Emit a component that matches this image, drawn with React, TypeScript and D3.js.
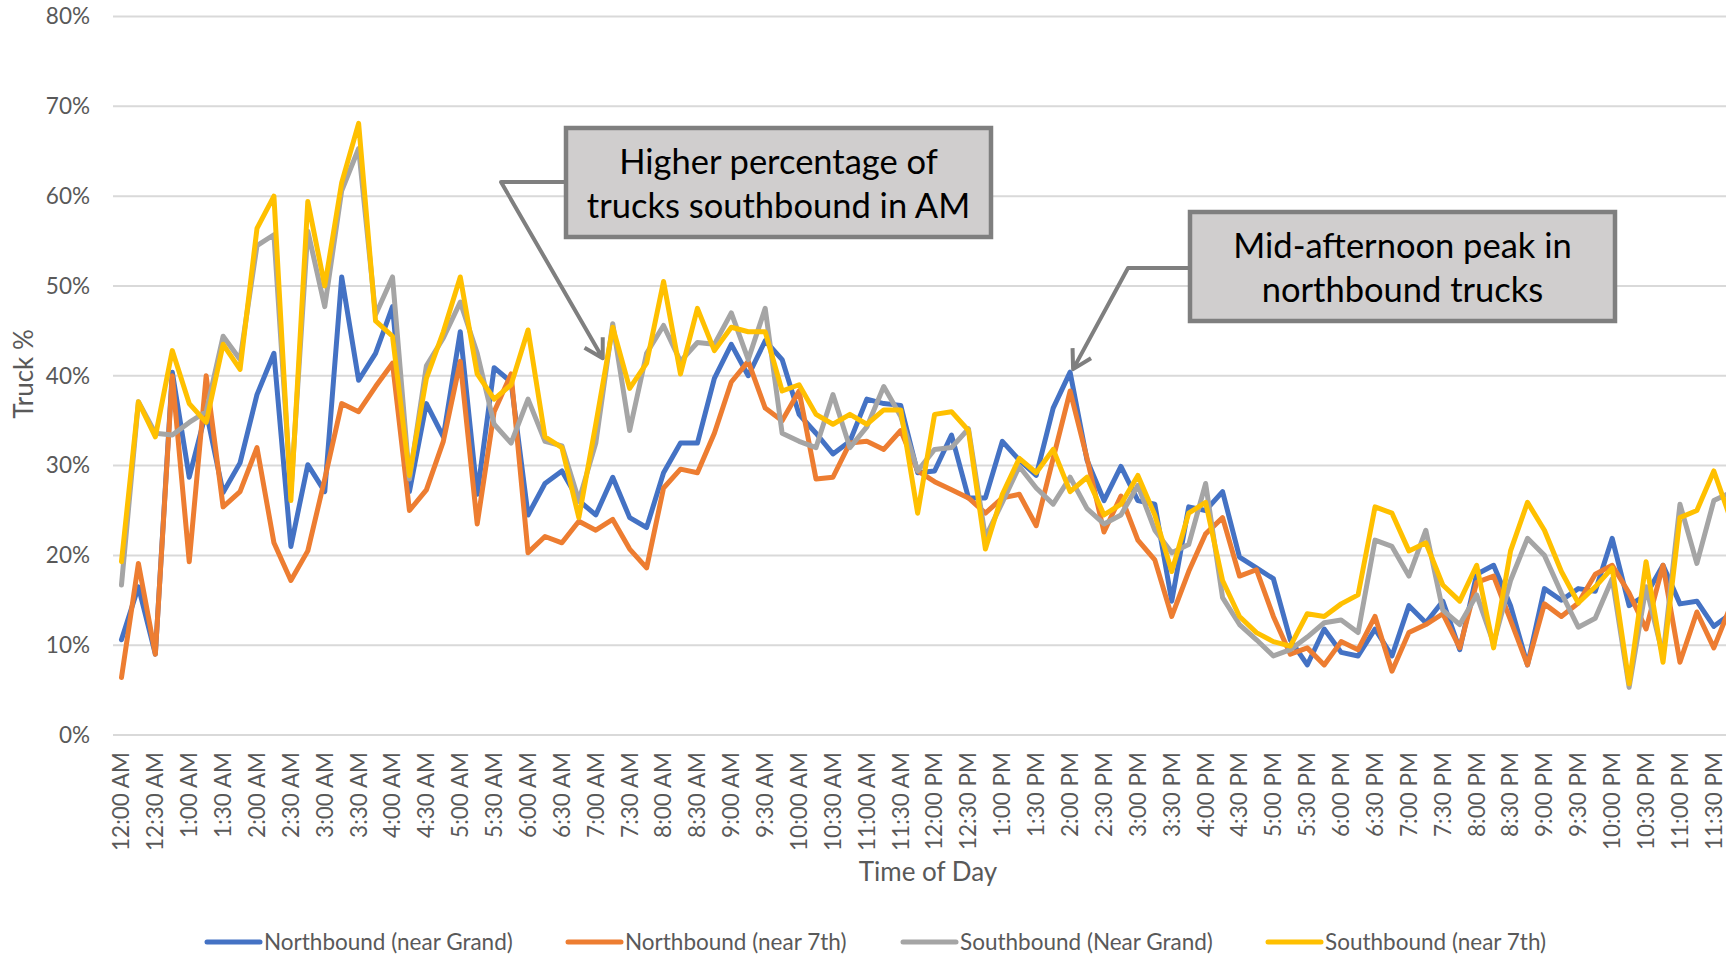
import React, { useRef, useEffect } from 'react'
import * as d3 from 'd3'

// truck share (%) per 15-minute interval, 12:00 AM .. 11:45 PM
const northGrand = [
  10.6, 16.5, 9.0, 40.4, 28.7, 36.0, 27.0, 30.3, 37.9, 42.5, 21.0, 30.1,
  27.1, 51.0, 39.5, 42.5, 47.7, 27.1, 36.9, 33.2, 44.9, 26.8, 40.9, 39.3,
  24.5, 28.0, 29.4, 26.1, 24.5, 28.7, 24.2, 23.1, 29.2, 32.5, 32.5, 39.7,
  43.5, 40.0, 43.9, 41.8, 35.7, 33.6, 31.3, 32.7, 37.4, 36.9, 36.7, 29.2,
  29.4, 33.4, 26.4, 26.4, 32.7, 30.6, 28.9, 36.4, 40.4, 30.6, 26.1, 29.9,
  26.1, 25.7, 14.9, 25.4, 25.0, 27.1, 19.8, 18.6, 17.4, 10.6, 7.8, 11.8,
  9.2, 8.8, 11.8, 8.8, 14.4, 12.5, 14.9, 9.5, 17.9, 18.9, 14.4, 7.8,
  16.3, 15.0, 16.3, 16.0, 21.9, 14.4, 15.6, 18.9, 14.6, 14.9, 12.1, 13.5,
]
const north7th = [
  6.4, 19.1, 9.0, 40.0, 19.3, 40.0, 25.4, 27.1, 32.0, 21.4, 17.2, 20.5,
  28.5, 36.9, 36.0, 38.8, 41.4, 25.0, 27.3, 32.7, 41.6, 23.5, 36.0, 40.2,
  20.3, 22.1, 21.4, 23.8, 22.8, 24.0, 20.7, 18.6, 27.5, 29.6, 29.2, 33.6,
  39.3, 41.6, 36.4, 35.0, 38.3, 28.5, 28.7, 32.5, 32.7, 31.8, 33.9, 29.4,
  28.2, 27.3, 26.4, 24.7, 26.4, 26.8, 23.3, 30.8, 38.3, 30.8, 22.6, 26.6,
  21.7, 19.5, 13.2, 18.2, 22.4, 24.2, 17.7, 18.4, 13.2, 9.0, 9.7, 7.8,
  10.4, 9.5, 13.2, 7.1, 11.4, 12.3, 13.5, 9.7, 17.0, 17.7, 12.8, 7.8,
  14.6, 13.2, 14.7, 17.9, 18.9, 15.8, 11.8, 18.9, 8.1, 13.7, 9.7, 14.4,
]
const southGrand = [
  16.7, 37.1, 33.6, 33.4, 34.8, 36.0, 44.4, 41.8, 54.5, 55.7, 27.0, 56.1,
  47.7, 60.6, 65.3, 46.8, 51.0, 28.5, 41.1, 44.2, 48.2, 42.5, 34.6, 32.5,
  37.4, 32.7, 32.2, 26.1, 32.5, 45.8, 33.9, 42.5, 45.6, 41.6, 43.7, 43.5,
  47.0, 41.8, 47.5, 33.6, 32.7, 32.0, 37.9, 32.0, 34.3, 38.8, 35.5, 29.4,
  31.8, 32.0, 34.1, 22.0, 25.9, 29.9, 27.5, 25.7, 28.7, 25.2, 23.5, 24.5,
  27.8, 22.8, 20.3, 21.2, 28.0, 15.3, 12.3, 10.6, 8.8, 9.5, 10.9, 12.5,
  12.8, 11.4, 21.7, 21.0, 17.7, 22.8, 13.9, 12.3, 15.6, 10.2, 17.2, 21.9,
  20.0, 15.8, 12.0, 13.0, 17.4, 5.3, 16.5, 8.8, 25.7, 19.1, 26.1, 27.0,
]
const south7th = [
  19.3, 37.1, 33.2, 42.8, 36.9, 34.8, 43.5, 40.7, 56.4, 60.0, 26.1, 59.4,
  50.0, 61.5, 68.1, 46.1, 44.4, 28.9, 39.7, 44.9, 51.0, 40.2, 37.4, 39.0,
  45.1, 33.2, 32.0, 24.2, 34.6, 45.4, 38.6, 41.4, 50.5, 40.2, 47.5, 42.8,
  45.4, 44.9, 44.9, 38.3, 39.0, 35.7, 34.6, 35.7, 34.6, 36.2, 36.2, 24.7,
  35.7, 36.0, 33.9, 20.7, 26.8, 30.8, 29.2, 31.8, 27.1, 28.7, 24.5, 25.7,
  28.9, 24.5, 18.2, 24.7, 25.9, 17.2, 13.2, 11.4, 10.4, 9.9, 13.5, 13.2,
  14.6, 15.6, 25.4, 24.7, 20.5, 21.4, 16.7, 14.9, 18.9, 9.7, 20.5, 25.9,
  22.8, 18.2, 14.7, 16.5, 18.6, 5.7, 19.3, 8.1, 24.2, 25.0, 29.4, 24.0,
]

// every other interval gets a label
const tickLabels = [
  '12:00 AM', '12:30 AM', '1:00 AM', '1:30 AM', '2:00 AM', '2:30 AM', '3:00 AM', '3:30 AM',
  '4:00 AM', '4:30 AM', '5:00 AM', '5:30 AM', '6:00 AM', '6:30 AM', '7:00 AM', '7:30 AM',
  '8:00 AM', '8:30 AM', '9:00 AM', '9:30 AM', '10:00 AM', '10:30 AM', '11:00 AM', '11:30 AM',
  '12:00 PM', '12:30 PM', '1:00 PM', '1:30 PM', '2:00 PM', '2:30 PM', '3:00 PM', '3:30 PM',
  '4:00 PM', '4:30 PM', '5:00 PM', '5:30 PM', '6:00 PM', '6:30 PM', '7:00 PM', '7:30 PM',
  '8:00 PM', '8:30 PM', '9:00 PM', '9:30 PM', '10:00 PM', '10:30 PM', '11:00 PM', '11:30 PM',
]
const yTicks = [0, 10, 20, 30, 40, 50, 60, 70, 80]

const seriesNames = [
  'Northbound (near Grand)',
  'Northbound (near 7th)',
  'Southbound (Near Grand)',
  'Southbound (near 7th)',
]
const seriesValues = [northGrand, north7th, southGrand, south7th]
const seriesColors = ['#4472C4', '#ED7D31', '#A5A5A5', '#FFC000']

// callouts: text, the interval/series the arrow points at
const notes = [
  { lines: ['Higher percentage of', 'trucks southbound in AM'], at: 29, series: 3 },
  { lines: ['Mid-afternoon peak in', 'northbound trucks'], at: 56, series: 0 },
]

const FONT = 'Lato, "Open Sans", sans-serif'

function App() {
  const svgRef = useRef(null)

  useEffect(() => {
    const svg = d3.select(svgRef.current)
    svg.selectAll('*').remove()

    const width = 1726
    const height = 955
    const left = 113
    const step = 16.94
    const n = northGrand.length

    const x = d3
      .scaleBand<number>()
      .domain(d3.range(n))
      .range([left, left + n * step])
    const cx = (i: number) => (x(i) as number) + x.bandwidth() / 2
    const y = d3.scaleLinear().domain([0, 80]).range([735, 16.5])

    svg.attr('width', width).attr('height', height)

    //gridlines
    svg
      .append('g')
      .selectAll('line')
      .data(yTicks)
      .join('line')
      .attr('x1', left)
      .attr('x2', left + n * step)
      .attr('y1', (d) => y(d))
      .attr('y2', (d) => y(d))
      .attr('stroke', '#d9d9d9')
      .attr('stroke-width', 2)

    //y tick labels
    svg
      .append('g')
      .selectAll('text')
      .data(yTicks)
      .join('text')
      .attr('x', 90)
      .attr('y', (d) => y(d))
      .attr('dy', '0.35em')
      .attr('text-anchor', 'end')
      .attr('font-family', FONT)
      .attr('font-size', 22.5)
      .attr('fill', '#595959')
      .text((d) => `${d}%`)

    //x tick labels, rotated
    svg
      .append('g')
      .selectAll('text')
      .data(tickLabels)
      .join('text')
      .attr('transform', (d, i) => `translate(${cx(i * 2)},752) rotate(-90)`)
      .attr('dy', '0.35em')
      .attr('text-anchor', 'end')
      .attr('font-family', FONT)
      .attr('font-size', 22.5)
      .attr('fill', '#595959')
      .text((d) => d)

    //axis titles
    svg
      .append('text')
      .attr('x', 928)
      .attr('y', 872)
      .attr('dy', '0.35em')
      .attr('text-anchor', 'middle')
      .attr('font-family', FONT)
      .attr('font-size', 26)
      .attr('fill', '#595959')
      .text('Time of Day')
    svg
      .append('text')
      .attr('transform', 'translate(24,374) rotate(-90)')
      .attr('dy', '0.35em')
      .attr('text-anchor', 'middle')
      .attr('font-family', FONT)
      .attr('font-size', 26)
      .attr('fill', '#595959')
      .text('Truck %')

    //series lines
    const line = d3
      .line<number>()
      .x((d, i) => cx(i))
      .y((d) => y(d))
    svg
      .append('g')
      .selectAll('path')
      .data(seriesValues)
      .join('path')
      .attr('d', (d) => line(d))
      .attr('fill', 'none')
      .attr('stroke', (d, i) => seriesColors[i])
      .attr('stroke-width', 5)
      .attr('stroke-linejoin', 'round')
      .attr('stroke-linecap', 'round')

    //callouts: box, elbow connector, open arrow head
    const boxes = [
      { x: 566, y: 128, w: 425, h: 109, elbowX: 501, elbowY: 182, dx: -10, dy: 31 },
      { x: 1190, y: 212, w: 425, h: 109, elbowX: 1128, elbowY: 268, dx: 3, dy: -3 },
    ]
    notes.forEach((note, k) => {
      const b = boxes[k]
      const g = svg.append('g')
      const tx = cx(note.at) + b.dx
      const ty = y(seriesValues[note.series][note.at]) + b.dy
      const ang = Math.atan2(ty - b.elbowY, tx - b.elbowX)
      const arm = 21
      g.append('path')
        .attr(
          'd',
          `M${b.x},${b.elbowY}L${b.elbowX},${b.elbowY}L${tx},${ty}` +
            `M${tx - arm * Math.cos(ang - Math.PI / 6)},${ty - arm * Math.sin(ang - Math.PI / 6)}` +
            `L${tx},${ty}` +
            `L${tx - arm * Math.cos(ang + Math.PI / 6)},${ty - arm * Math.sin(ang + Math.PI / 6)}`
        )
        .attr('fill', 'none')
        .attr('stroke', '#7f7f7f')
        .attr('stroke-width', 4)
        .attr('stroke-linejoin', 'round')
      g.append('rect')
        .attr('x', b.x)
        .attr('y', b.y)
        .attr('width', b.w)
        .attr('height', b.h)
        .attr('fill', '#d0cece')
        .attr('stroke', '#7f7f7f')
        .attr('stroke-width', 4.5)
      g.selectAll('text')
        .data(note.lines)
        .join('text')
        .attr('x', b.x + b.w / 2)
        .attr('y', (d, i) => b.y + 34 + i * 44)
        .attr('dy', '0.35em')
        .attr('text-anchor', 'middle')
        .attr('font-family', FONT)
        .attr('font-size', 34.5)
        .attr('fill', '#000')
        .text((d) => d)
    })

    //legend
    const legendX = [207, 568, 903, 1268]
    const legend = svg
      .append('g')
      .selectAll('g')
      .data(seriesNames)
      .join('g')
      .attr('transform', (d, i) => `translate(${legendX[i]},942)`)
    legend
      .append('line')
      .attr('x1', 0)
      .attr('x2', 53)
      .attr('stroke', (d, i) => seriesColors[i])
      .attr('stroke-width', 5)
      .attr('stroke-linecap', 'round')
    legend
      .append('text')
      .attr('x', 57)
      .attr('dy', '0.35em')
      .attr('font-family', FONT)
      .attr('font-size', 22.5)
      .attr('fill', '#595959')
      .text((d) => d)
  }, [])

  return (
    <div style={{ position: 'absolute', left: 0, top: 0, width: 1726, height: 955, overflow: 'hidden', background: '#fff' }}>
      <svg ref={svgRef} style={{ display: 'block' }} />
    </div>
  )
}

export default App
